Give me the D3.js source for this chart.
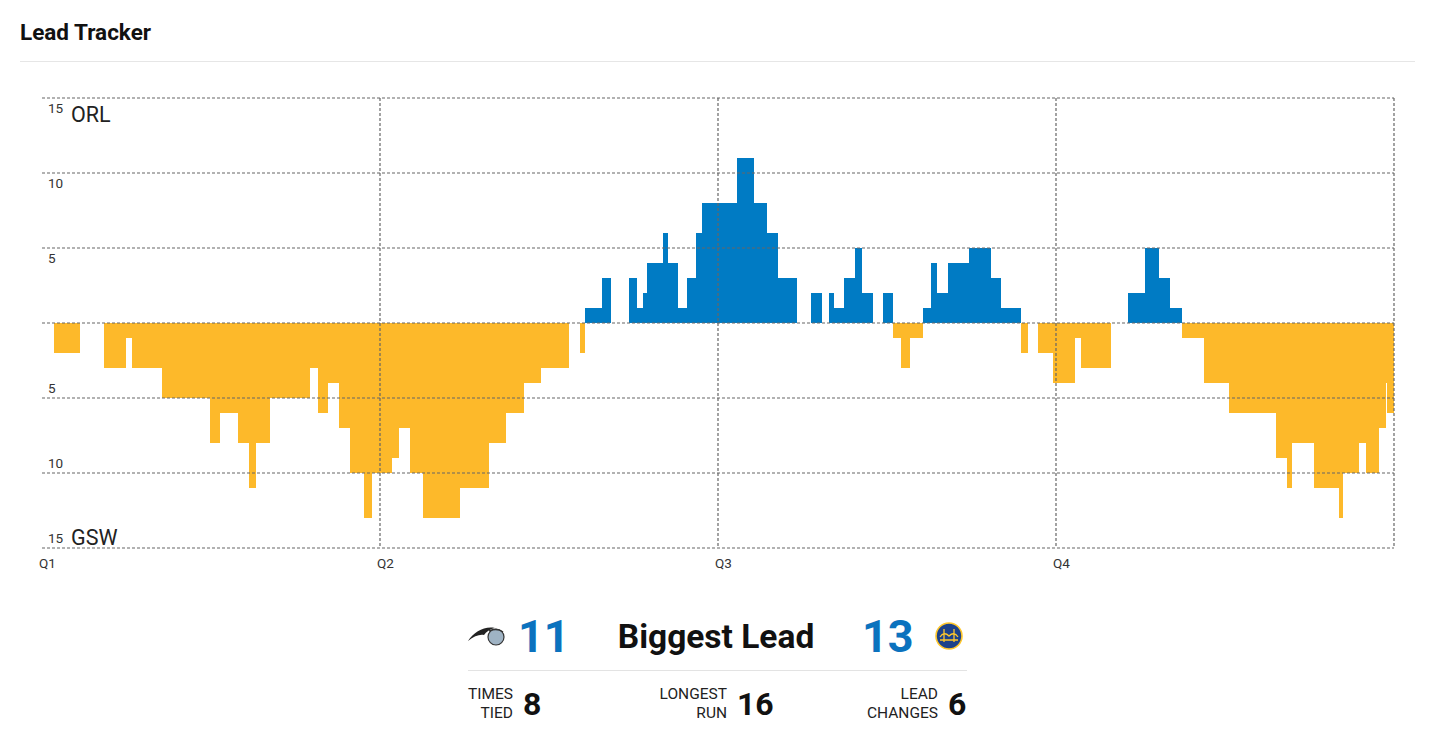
<!DOCTYPE html>
<html>
<head>
<meta charset="utf-8">
<script src="https://cdn.jsdelivr.net/npm/d3@7"></script>
<style>
  html, body { margin: 0; padding: 0; background: #fff; }
  svg { display: block; font-family: Roboto, "Noto Sans", sans-serif; }
</style>
</head>
<body>
<svg id="chart" width="1437" height="746"></svg>
<script>
// ---- data ----
// game minutes elapsed at which the margin changes
const changeTimes = [0, 0.43, 1.35, 2.20, 2.98, 3.20, 4.26, 5.96, 6.32, 6.96, 7.34, 7.57, 8.10, 9.52, 9.80, 10.15, 10.54, 10.94, 11.43, 11.72,
  12.43, 12.68, 13.07, 13.53, 14.84, 15.87, 16.47, 17.11, 17.72, 18.71, 19.10, 19.28, 19.88, 20.19, 20.84, 21.12, 21.34, 21.48, 22.05, 22.23,
  22.58, 22.90, 23.22, 23.43, 24.68, 25.28, 25.74, 26.13, 26.81, 27.30, 27.69, 27.94, 28.12, 28.47, 28.86, 29.11, 29.50, 29.86, 30.21, 30.50,
  30.82, 31.28, 31.56, 31.78, 32.17, 32.91, 33.69, 34.05, 34.76, 35.01, 35.36, 35.89, 36.68, 36.89, 37.95, 38.56, 39.16, 39.66, 40.05, 40.47,
  41.25, 42.14, 43.81, 44.20, 44.38, 45.16, 46.05, 46.19, 46.76, 47.01, 47.47, 47.72, 47.75];
// ORL minus GSW after each change
const margins = [0, -2, 0, -3, -1, -3, -5, -8, -6, -8, -11, -8, -5, -3, -6, -4, -7, -10, -13, -10,
  -9, -7, -10, -13, -11, -8, -6, -4, -3, 0, -2, 1, 3, 0, 3, 1, 2, 4, 6, 4,
  1, 3, 6, 8, 11, 8, 6, 3, 0, 2, 0, 2, 1, 3, 5, 2, 0, 2, -1, -3,
  -1, 1, 4, 2, 4, 5, 3, 1, -2, 0, -2, -4, -1, -3, 0, 2, 5, 3, 1, -1,
  -4, -6, -9, -11, -8, -11, -13, -10, -8, -10, -7, -4, -6];
const gameLength = 48;
const quarterLabels = ["Q1", "Q2", "Q3", "Q4"];
const quarterStarts = [0, 12, 24, 36];
const yTicks = [-15, -10, -5, 0, 5, 10, 15];
const teams = ["ORL", "GSW"];
const biggestLead = [11, 13];
const statLabels = [["TIMES", "TIED"], ["LONGEST", "RUN"], ["LEAD", "CHANGES"]];
const statValues = [8, 16, 6];

// ---- drawing ----
const svg = d3.select("#chart");
const blue = "#007bc4", gold = "#fdb92a";

svg.append("text").attr("x", 20).attr("y", 40)
  .attr("font-size", 22.5).attr("font-weight", 700).attr("fill", "#111").text("Lead Tracker");
svg.append("line").attr("x1", 20).attr("x2", 1415).attr("y1", 61.5).attr("y2", 61.5)
  .attr("stroke", "#e6e6e6").attr("stroke-width", 1);

const x = d3.scaleLinear().domain([0, gameLength]).range([42, 1394]);
const y = d3.scaleLinear().domain([-15, 15]).range([548, 98]);

const segs = changeTimes.map((t, i) => ({
  t0: t, t1: i + 1 < changeTimes.length ? changeTimes[i + 1] : gameLength, m: margins[i]
})).filter(d => d.m !== 0);

svg.append("g").selectAll("rect").data(segs).join("rect")
  .attr("x", d => x(d.t0))
  .attr("width", d => x(d.t1) - x(d.t0) + 0.3)
  .attr("y", d => Math.min(y(0), y(d.m)))
  .attr("height", d => Math.abs(y(d.m) - y(0)))
  .attr("fill", d => d.m > 0 ? blue : gold)
  .attr("shape-rendering", "crispEdges");

// grid
const grid = svg.append("g").attr("stroke", "#666").attr("stroke-width", 1.2)
  .attr("stroke-dasharray", "3,2").attr("fill", "none");
grid.selectAll("line.h").data(yTicks).join("line").attr("class", "h")
  .attr("x1", x(0)).attr("x2", x(gameLength))
  .attr("y1", d => Math.round(y(d))).attr("y2", d => Math.round(y(d)));
grid.selectAll("line.v").data(quarterStarts.slice(1).concat([gameLength])).join("line").attr("class", "v")
  .attr("x1", d => Math.round(x(d))).attr("x2", d => Math.round(x(d)))
  .attr("y1", y(15)).attr("y2", y(-15));

// y labels
svg.append("g").selectAll("text").data(yTicks.filter(d => d !== 0)).join("text")
  .attr("x", 48)
  .attr("y", d => d > 0 ? y(d) + 15 : y(d) - 5)
  .attr("font-size", 13.5).attr("fill", "#333")
  .text(d => Math.abs(d));
svg.append("text").attr("x", 71).attr("y", 122).attr("font-size", 21.5).attr("fill", "#222").text(teams[0]);
svg.append("text").attr("x", 71).attr("y", 545).attr("font-size", 21.5).attr("fill", "#222").text(teams[1]);

// x labels
svg.append("g").selectAll("text").data(quarterStarts).join("text")
  .attr("x", d => x(d) - 3).attr("y", 568)
  .attr("font-size", 13.5).attr("fill", "#333")
  .text((d, i) => quarterLabels[i]);

// ---- summary panel ----
// ORL logo (approximation)
const orl = svg.append("g").attr("transform", "translate(468,620)");
orl.append("path").attr("d", "M0,21 C6,12 16,6 27,8 C22,9 18,12 16,15 C12,14 6,16 0,21 Z").attr("fill", "#222");
orl.append("circle").attr("cx", 28).attr("cy", 17).attr("r", 8).attr("fill", "#9fb3c4").attr("stroke", "#333").attr("stroke-width", 1.2);
orl.append("path").attr("d", "M21,11 C26,9 31,9 35,12").attr("stroke", "#333").attr("stroke-width", 1.5).attr("fill", "none");

svg.append("text").attr("x", 518).attr("y", 652).attr("font-size", 45).attr("font-weight", 700)
  .attr("fill", "#0b72be").text(biggestLead[0]);
svg.append("text").attr("x", 716).attr("y", 648).attr("text-anchor", "middle").attr("font-size", 33.5)
  .attr("font-weight", 700).attr("fill", "#111").text("Biggest Lead");
svg.append("text").attr("x", 862).attr("y", 652).attr("font-size", 45).attr("font-weight", 700)
  .attr("fill", "#0b72be").text(biggestLead[1]);

// GSW logo (approximation)
const gsw = svg.append("g").attr("transform", "translate(949,636)");
gsw.append("circle").attr("r", 13).attr("fill", "#1d428a").attr("stroke", "#ffc72c").attr("stroke-width", 1.6);
gsw.append("path").attr("d", "M-9,4 H9 M-5,-7 V6 M5,-7 V6 M-9,1 Q-5,-5 0,0 Q5,-5 9,1")
  .attr("stroke", "#ffc72c").attr("stroke-width", 1.3).attr("fill", "none");

svg.append("line").attr("x1", 468).attr("x2", 967).attr("y1", 670.5).attr("y2", 670.5)
  .attr("stroke", "#e3e3e3").attr("stroke-width", 1);

const statLabelRight = [513, 727, 938];
const stat = svg.append("g").selectAll("g").data(statValues).join("g");
stat.each(function (v, i) {
  const g = d3.select(this);
  g.append("text").attr("x", statLabelRight[i]).attr("y", 699).attr("text-anchor", "end")
    .attr("font-size", 15.5).attr("fill", "#222").text(statLabels[i][0]);
  g.append("text").attr("x", statLabelRight[i]).attr("y", 718).attr("text-anchor", "end")
    .attr("font-size", 15.5).attr("fill", "#222").text(statLabels[i][1]);
  g.append("text").attr("x", statLabelRight[i] + 10).attr("y", 715)
    .attr("font-size", 32).attr("font-weight", 700).attr("fill", "#111").text(v);
});
</script>
</body>
</html>
